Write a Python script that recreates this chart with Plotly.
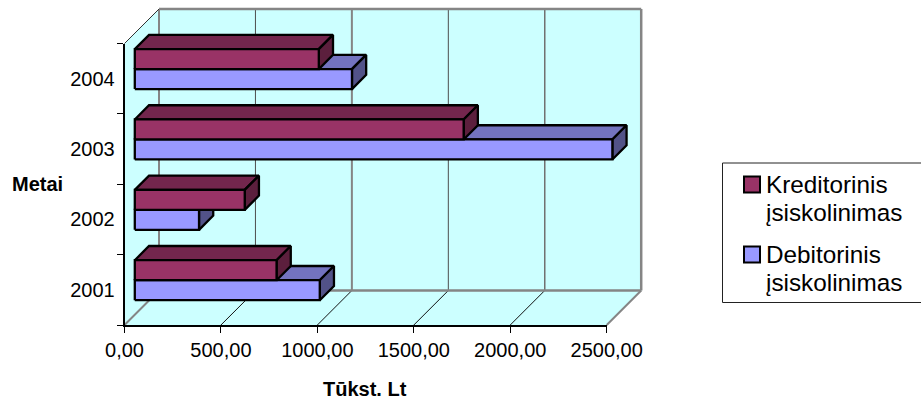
import plotly.graph_objects as go

# Debt figures per year, thousands of litas
years = ["2001", "2002", "2003", "2004"]
kreditorinis = [735, 570, 1705, 954]
debitorinis = [959, 333, 2476, 1126]
value_ticks = [0, 500, 1000, 1500, 2000, 2500]
value_tick_labels = ["0,00", "500,00", "1000,00", "1500,00", "2000,00", "2500,00"]

W, H = 921, 400
X0_PX, X1_PX = 124.5, 606.7      # value axis ends on the page
Y0_PX, Y1_PX = 325.0, 43.5       # category axis ends on the page
VMAX = value_ticks[-1]
NCAT = len(years)
PX_PER_V = (X1_PX - X0_PX) / VMAX
PX_PER_C = (Y0_PX - Y1_PX) / NCAT

# Oblique depth, expressed in value units and category units per pixel of shift
DX = 1 / PX_PER_V
DY = 1 / PX_PER_C


def proj(v, c, depth_px=0.0):
    """Value and category position, sheared backwards by a depth in pixels."""
    return v + depth_px * DX, c + depth_px * DY


def poly(points, fill, line_color="black", line_width=2.3):
    xs, ys = zip(*points)
    return go.Scatter(
        x=list(xs) + [xs[0]], y=list(ys) + [ys[0]], mode="lines", fill="toself",
        fillcolor=fill, line=dict(color=line_color, width=line_width),
        hoverinfo="skip", showlegend=False, xaxis="x", yaxis="y",
    )


def seg(p, q, color, width):
    return go.Scatter(
        x=[p[0], q[0]], y=[p[1], q[1]], mode="lines",
        line=dict(color=color, width=width),
        hoverinfo="skip", showlegend=False, xaxis="x", yaxis="y",
    )


WALL = "#CCFFFF"
GREY = "#858585"
BACK = 34.5       # depth of the chart box
traces = []

# Floor, side wall and back wall
traces.append(poly([proj(0, 0), proj(VMAX, 0), proj(VMAX, 0, BACK), proj(0, 0, BACK)], WALL, WALL, 0.5))
traces.append(poly([proj(0, 0), proj(0, NCAT), proj(0, NCAT, BACK), proj(0, 0, BACK)], WALL, WALL, 0.5))
traces.append(poly([proj(0, 0, BACK), proj(VMAX, 0, BACK), proj(VMAX, NCAT, BACK), proj(0, NCAT, BACK)], WALL, WALL, 0.5))

# Gridlines across the floor and up the back wall
grid_styles = [(GREY, 2), ("#4d4d4d", 1), (GREY, 2), ("#4d4d4d", 1), ("#707070", 1.5), (GREY, 2.5)]
for v, (col, w) in zip(value_ticks, grid_styles):
    traces.append(seg(proj(v, 0, BACK), proj(v, NCAT, BACK), col, w))
    if v in (0, VMAX):
        traces.append(seg(proj(v, 0), proj(v, 0, BACK), GREY, 2))
    else:
        traces.append(seg(proj(v, 0), proj(v, 0, BACK), "#111111", 1))
traces.append(seg(proj(0, 0, BACK), proj(VMAX, 0, BACK), GREY, 2.5))
traces.append(seg(proj(0, NCAT, BACK), proj(VMAX, NCAT, BACK), GREY, 2.5))
traces.append(seg(proj(0, NCAT), proj(0, NCAT, BACK), "#333333", 1))

# Boxes: front face sits GAP behind the box front, BAR_D is the bar depth
GAP = 10.3
BAR_D = 14.2
BAR_H = 20 / PX_PER_C
DROP = 0.7 * DY    # pulls the bars down slightly inside their category band


def box(value, c_low, colors):
    face, top, side = colors
    c_high = c_low + BAR_H
    a, b = proj(0, c_low, GAP), proj(value, c_low, GAP)
    d, e = proj(0, c_high, GAP), proj(value, c_high, GAP)
    return [
        poly([d, e, proj(value, c_high, GAP + BAR_D), proj(0, c_high, GAP + BAR_D)], top),
        poly([b, e, proj(value, c_high, GAP + BAR_D), proj(value, c_low, GAP + BAR_D)], side),
        poly([a, b, e, d], face),
    ]


KRED_COLORS = ("#993366", "#73264D", "#5C1F3D")
DEB_COLORS = ("#9999FF", "#7373BF", "#525288")

for i in reversed(range(NCAT)):
    low = i + 0.5 - BAR_H - DROP
    traces += box(debitorinis[i], low, DEB_COLORS)
    traces += box(kreditorinis[i], low + BAR_H, KRED_COLORS)

fig = go.Figure(traces)

# Value and category axes
dom_x = [X0_PX / W, X1_PX / W]
dom_y = [1 - Y0_PX / H, 1 - Y1_PX / H]
FONT = "Liberation Sans"
fig.add_trace(go.Bar(x=[None], y=[None], xaxis="x2", yaxis="y2", showlegend=False, hoverinfo="skip"))

shapes = [dict(type="rect", xref="paper", yref="paper", x0=722.5 / W, x1=930 / W,
               y0=1 - 302.5 / H, y1=1 - 163 / H, line=dict(color="#222222", width=1), fillcolor="white")]
for col, top in zip(["#993366", "#9999FF"], [176.5, 246.5]):
    shapes.append(dict(type="rect", xref="paper", yref="paper", x0=744 / W, x1=760 / W,
                       y0=1 - (top + 16) / H, y1=1 - top / H, line=dict(color="black", width=2), fillcolor=col))

annotations = []
for text, x, base, size in [
    ("Kreditorinis", 765.5, 191.7, 24.3),
    ("įsiskolinimas", 765.5, 219.7, 24.3),
    ("Debitorinis", 765.5, 261.7, 24.3),
    ("įsiskolinimas", 765.5, 289.7, 24.3),
]:
    annotations.append(dict(text=text, xref="paper", yref="paper", x=x / W, y=1 - base / H,
                            xanchor="left", yanchor="bottom", yshift=-size * 0.27, showarrow=False,
                            font=dict(family=FONT, size=size, color="black"),
                            borderpad=0, borderwidth=0))
annotations.append(dict(text="<b>Metai</b>", xref="paper", yref="paper", x=37 / W, y=1 - 184 / H,
                        xanchor="center", yanchor="middle", showarrow=False,
                        font=dict(family=FONT, size=20, color="black")))
annotations.append(dict(text="<b>Tūkst. Lt</b>", xref="paper", yref="paper", x=365 / W, y=1 - 389 / H,
                        xanchor="center", yanchor="middle", showarrow=False,
                        font=dict(family=FONT, size=20, color="black")))

fig.update_layout(
    width=W, height=H, autosize=False, margin=dict(l=0, r=0, t=0, b=0, autoexpand=False),
    paper_bgcolor="white", plot_bgcolor="rgba(0,0,0,0)", showlegend=False,
    xaxis=dict(domain=[0, 1], range=[-X0_PX * DX, (W - X0_PX) * DX], visible=False),
    yaxis=dict(domain=[0, 1], range=[(Y0_PX - H) * DY, Y0_PX * DY], visible=False),
    xaxis2=dict(domain=dom_x, range=[0, VMAX], anchor="y2", tickmode="array",
                tickvals=value_ticks, ticktext=value_tick_labels, ticks="outside", ticklen=6,
                tickcolor="black", tickwidth=1, showline=True, linecolor="black", linewidth=1.5,
                showgrid=False, zeroline=False, tickfont=dict(family=FONT, size=20, color="black")),
    yaxis2=dict(domain=dom_y, type="category", categoryorder="array", categoryarray=years,
                range=[-0.5, NCAT - 0.5], anchor="x2", tickson="boundaries", ticks="outside", ticklen=6,
                ticklabelstandoff=4,
                tickcolor="black", tickwidth=1, showline=True, linecolor="black", linewidth=1.5,
                showgrid=False, zeroline=False, tickfont=dict(family=FONT, size=20, color="black")),
    shapes=shapes, annotations=annotations,
)
fig.write_html("out.html")
